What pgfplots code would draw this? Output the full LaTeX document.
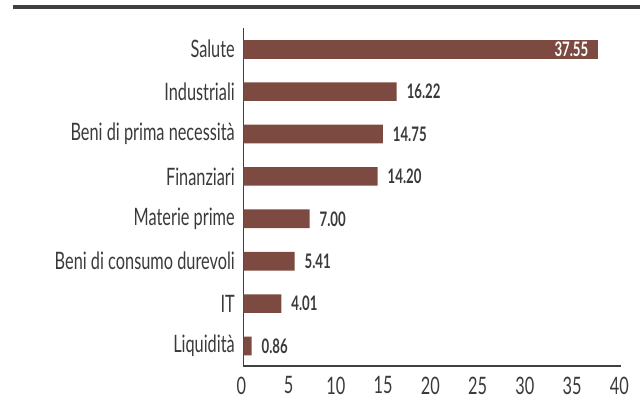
\documentclass[border=0pt]{standalone}
\usepackage{fontspec}
\setmainfont[FakeStretch=0.68]{Lato}
\newfontfamily\valfont[FakeStretch=0.66]{Lato}
\usepackage{pgfplots}
\pgfplotsset{compat=1.18}
\definecolor{barc}{HTML}{7D4A41}
\definecolor{txt}{HTML}{3A3A3A}
\definecolor{rule}{HTML}{404040}
\pgfplotstableread{
y val
0 0.86
1 4.01
2 5.41
3 7.00
4 14.20
5 14.75
6 16.22
}\others
\pgfplotstableread{
y val
7 37.55
}\salute
\begin{document}
\begin{tikzpicture}
\useasboundingbox (-182.6pt,-30.75pt) rectangle (297.4pt,274.5pt);
\fill[rule] (-173pt,267.75pt) rectangle (297.4pt,270.75pt);
\begin{axis}[
  at={(0,0)}, anchor=south west,
  scale only axis, width=283.5pt, height=253.3pt,
  xbar, bar shift=0pt, bar width=0.44,
  xmin=0, xmax=40, ymin=-0.472, ymax=7.495,
  xtick={0,5,...,40},
  ytick={0,...,7},
  yticklabels={Liquidità,IT,Beni di consumo durevoli,Materie prime,Finanziari,Beni di prima necessità,Industriali,Salute},
  axis x line*=bottom, axis y line*=left,
  axis line style={rule, line width=0.8pt, -},
  major tick length=0pt,
  tick style={draw=none},
  /pgf/number format/assume math mode=true,
  ticklabel style={font=\fontsize{18}{21}\selectfont, text=txt},
  xticklabel style={yshift=-4.5pt, xshift=-1.5pt},
  yticklabel style={xshift=-3pt},
  nodes near coords={\pgfmathprintnumber[fixed,fixed zerofill,precision=2]{\pgfplotspointmeta}},
  nodes near coords style={font=\valfont\bfseries\fontsize{15}{17}\selectfont, text=txt},
  every node near coord/.append style={xshift=4pt},
]
\addplot[fill=barc, draw=none] table[x=val, y=y] {\others};
\addplot[fill=barc, draw=none, every node near coord/.append style={anchor=east, text=white, xshift=-8pt}] table[x=val, y=y] {\salute};
\end{axis}
\end{tikzpicture}
\end{document}
